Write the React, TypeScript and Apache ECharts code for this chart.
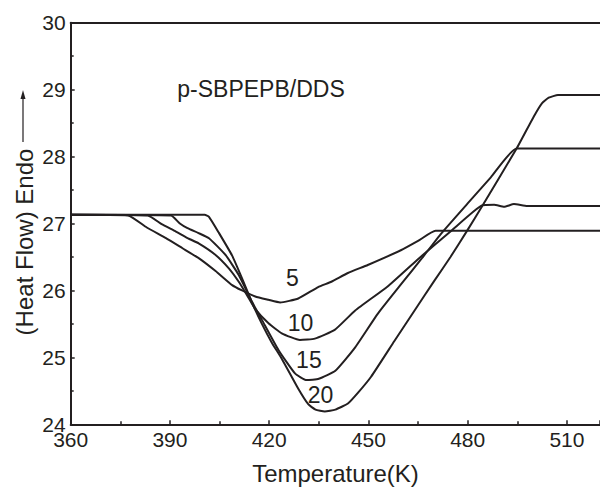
import React, { useEffect, useRef } from "react";
import * as echarts from "echarts";

// Heating rates (K/min)
const rates = ["5", "10", "15", "20"];

// Curve for 5 K/min
const x5 = [360, 377.3, 383, 388.8, 393.8, 398.8, 403.8, 408.8, 411.8, 415.8, 419.8, 423.3, 428.8, 434.8, 438.8, 443.8, 449.8, 459.8, 465, 470.3, 520];
const y5 = [27.13, 27.12, 26.94, 26.78, 26.63, 26.48, 26.29, 26.08, 26.0, 25.91, 25.86, 25.82, 25.88, 26.05, 26.13, 26.26, 26.38, 26.6, 26.74, 26.89, 26.89];

// Curve for 10 K/min
const x10 = [360, 383.3, 387.5, 391.8, 395, 398.8, 403.8, 407.8, 410.8, 413.3, 415.8, 419.8, 423.8, 429.3, 433.8, 439.8, 446, 455.8, 464.8, 474.8, 484.3, 488, 491, 494, 498, 520];
const y10 = [27.13, 27.12, 26.99, 26.88, 26.79, 26.7, 26.53, 26.33, 26.13, 25.93, 25.72, 25.51, 25.36, 25.26, 25.28, 25.41, 25.7, 26.06, 26.46, 26.88, 27.27, 27.28, 27.25, 27.29, 27.26, 27.26];

// Curve for 15 K/min
const x15 = [360, 390.3, 393, 395.3, 398.5, 401.8, 406.8, 410.8, 414.8, 417.8, 422.8, 427.8, 431.3, 435, 440, 446, 452.8, 460, 466, 472, 480, 487, 494.8, 520];
const y15 = [27.13, 27.12, 27.0, 26.93, 26.86, 26.78, 26.53, 26.23, 25.83, 25.56, 25.11, 24.76, 24.66, 24.68, 24.8, 25.15, 25.65, 26.1, 26.47, 26.85, 27.3, 27.69, 28.12, 28.12];

// Curve for 20 K/min
const x20 = [360, 400.5, 401.8, 404.8, 408.8, 411.8, 414.8, 417.8, 420.8, 423.8, 428.8, 431.8, 434, 436.8, 440, 443.8, 447, 450.8, 457.8, 463.8, 470, 474.8, 479.8, 484.5, 494.8, 500, 502.5, 504.5, 507.3, 520];
const y20 = [27.13, 27.13, 27.1, 26.86, 26.52, 26.18, 25.82, 25.5, 25.22, 24.98, 24.53, 24.3, 24.22, 24.19, 24.22, 24.31, 24.48, 24.71, 25.24, 25.69, 26.15, 26.5, 26.89, 27.27, 28.12, 28.6, 28.8, 28.88, 28.92, 28.92];

// Rate label positions (data coordinates)
const labelX = [427.0, 429.5, 432.0, 435.5];
const labelY = [26.19, 25.51, 24.96, 24.44];

const xTicks = [360, 390, 420, 450, 480, 510];
const yTicks = [24, 25, 26, 27, 28, 29, 30];

const INK = "#231f20";
const FONT = 'Arial, "Liberation Sans", Helvetica, sans-serif';

const zip = (xs: number[], ys: number[]) => xs.map((x, i) => [x, ys[i]]);

export default function App() {
  const ref = useRef<HTMLDivElement>(null);
  useEffect(() => {
    if (!ref.current) return;
    const chart = echarts.init(ref.current, null, { renderer: "svg" });
    const curves = [zip(x5, y5), zip(x10, y10), zip(x15, y15), zip(x20, y20)];
    const lineSeries = curves.map((d, i) => ({
      type: "line",
      name: rates[i],
      data: d,
      showSymbol: false,
      smooth: 0.15,
      lineStyle: { color: INK, width: 2 },
      z: 3,
    }));
    chart.setOption({
      animation: false,
      backgroundColor: "#ffffff",
      grid: { left: 70.7, right: -4, top: 22.7, bottom: 62.7 },
      xAxis: [
        {
          type: "value",
          min: xTicks[0],
          max: 520,
          interval: 30,
          axisLine: { lineStyle: { color: INK, width: 2 } },
          axisTick: { inside: true, length: 4, lineStyle: { color: INK, width: 1.5 } },
          minorTick: { show: true, splitNumber: 2, length: 3, lineStyle: { color: INK, width: 1.5 } },
          splitLine: { show: false },
          axisLabel: { color: INK, fontSize: 21, fontFamily: FONT, margin: 5, showMaxLabel: false },
        },
        {
          type: "value",
          position: "top",
          min: xTicks[0],
          max: 520,
          axisLine: { show: true, lineStyle: { color: INK, width: 2 } },
          axisTick: { show: false },
          axisLabel: { show: false },
          splitLine: { show: false },
        },
      ],
      yAxis: {
        type: "value",
        min: yTicks[0],
        max: yTicks[yTicks.length - 1],
        interval: 1,
        axisLine: { show: true, lineStyle: { color: INK, width: 2 } },
        axisTick: { show: true, inside: true, length: 4, lineStyle: { color: INK, width: 1.5 } },
        minorTick: { show: true, splitNumber: 2, length: 3, lineStyle: { color: INK, width: 1.5 } },
        splitLine: { show: false },
        axisLabel: { color: INK, fontSize: 21, fontFamily: FONT, margin: 5 },
      },
      series: [
        ...lineSeries,
        {
          type: "scatter",
          symbolSize: 1,
          itemStyle: { color: "rgba(0,0,0,0)", opacity: 1 },
          data: labelX.map((x, i) => [x, labelY[i], rates[i]]),
          label: {
            show: true,
            position: "inside",
            formatter: (p: any) => p.value[2],
            color: INK,
            opacity: 1,
            textBorderWidth: 0,
            fontSize: 23,
            fontFamily: FONT,
          },
          z: 4,
        },
      ],
      graphic: [
        {
          type: "text",
          x: 261,
          y: 89,
          style: {
            text: "p-SBPEPB/DDS",
            fill: INK,
            fontSize: 23,
            fontFamily: FONT,
            align: "center",
            verticalAlign: "middle",
          },
        },
        {
          type: "text",
          x: 335.5,
          y: 473.5,
          style: {
            text: "Temperature(K)",
            fill: INK,
            fontSize: 24,
            fontFamily: FONT,
            align: "center",
            verticalAlign: "middle",
          },
        },
        {
          type: "text",
          x: 24,
          y: 242,
          rotation: Math.PI / 2,
          style: {
            text: "(Heat Flow) Endo",
            fill: INK,
            fontSize: 24,
            fontFamily: FONT,
            align: "center",
            verticalAlign: "middle",
          },
        },
        {
          type: "line",
          shape: { x1: 23, y1: 142, x2: 23, y2: 97 },
          style: { stroke: INK, lineWidth: 1.2 },
        },
        {
          type: "polygon",
          shape: { points: [[23, 90], [20.5, 99], [25.5, 99]] },
          style: { fill: INK },
        },
      ],
    });
    return () => chart.dispose();
  }, []);
  return (
    <div
      ref={ref}
      style={{ position: "fixed", left: 0, top: 0, width: 600, height: 487, background: "#fff" }}
    />
  );
}
